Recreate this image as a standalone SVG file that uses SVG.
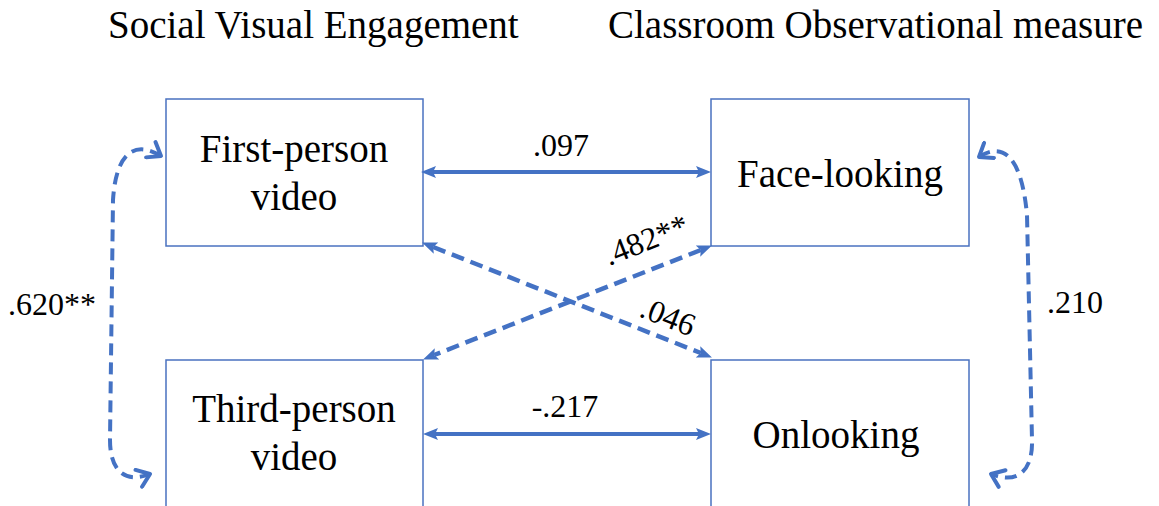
<svg xmlns="http://www.w3.org/2000/svg" width="1159" height="506" viewBox="0 0 1159 506">
<style>
  .box { fill: #ffffff; stroke: #4a72c0; stroke-width: 1.5; }
  .t { font-family: 'Liberation Serif', 'Times New Roman', Tinos, Times, 'DejaVu Serif', 'Noto Serif', serif; fill: #000; }
  .big { font-size: 39px; }
  .num { font-size: 32px; }
  .solid { fill: none; stroke: #4472C4; stroke-width: 4; }
  .dash { fill: none; stroke: #4472C4; stroke-width: 4.5; stroke-dasharray: 13 7; }
  .curve { fill: none; stroke: #4472C4; stroke-width: 4; stroke-dasharray: 12 7; }
</style>
<defs>
  <marker id="tri" markerUnits="userSpaceOnUse" markerWidth="15" markerHeight="12" viewBox="0 0 15 12" refX="3" refY="6" orient="auto-start-reverse">
    <path d="M0,0 L15,6 L0,12 L3,6 z" fill="#4472C4"/>
  </marker>
  <marker id="open" markerUnits="userSpaceOnUse" markerWidth="18" markerHeight="22" viewBox="0 0 18 22" refX="15" refY="11" orient="auto-start-reverse">
    <path d="M3,2 L15,11 L3,20" fill="none" stroke="#4472C4" stroke-width="4" stroke-linecap="round" stroke-linejoin="round"/>
  </marker>
</defs>

<g id="titles">
  <text class="t big" x="108" y="38">Social Visual Engagement</text>
  <text class="t big" x="608" y="38">Classroom Observational measure</text>
</g>

<g id="node-first-person">
  <rect class="box" x="166" y="99" width="257" height="147"/>
  <text class="t big" x="294" y="162" text-anchor="middle">First-person</text>
  <text class="t big" x="294" y="210" text-anchor="middle">video</text>
</g>
<g id="node-face-looking">
  <rect class="box" x="711" y="99" width="258" height="147"/>
  <text class="t big" x="840" y="187" text-anchor="middle">Face-looking</text>
</g>
<g id="node-third-person">
  <rect class="box" x="166" y="360" width="257" height="170"/>
  <text class="t big" x="294" y="422" text-anchor="middle">Third-person</text>
  <text class="t big" x="294" y="470" text-anchor="middle">video</text>
</g>
<g id="node-onlooking">
  <rect class="box" x="711" y="360" width="258" height="170"/>
  <text class="t big" x="836" y="448" text-anchor="middle">Onlooking</text>
</g>

<g id="connectors">
  <line class="solid" x1="433" y1="172" x2="699" y2="172" marker-start="url(#tri)" marker-end="url(#tri)"/>
  <line class="solid" x1="435" y1="434" x2="699" y2="434" marker-start="url(#tri)" marker-end="url(#tri)"/>
  <line class="dash" x1="433.2" y1="247" x2="700.8" y2="353" marker-start="url(#tri)" marker-end="url(#tri)"/>
  <line class="dash" x1="700.8" y1="250" x2="434.2" y2="355" marker-start="url(#tri)" marker-end="url(#tri)"/>
  <path class="curve" d="M161,156 C135,140 116,152 113,200 L110,440 C110,470 124,484 150,474" marker-start="url(#open)" marker-end="url(#open)"/>
  <path class="curve" d="M979,157 C1005,140 1022,160 1027,215 L1032,440 C1033,470 1018,485 991,474" marker-start="url(#open)" marker-end="url(#open)"/>
</g>

<g id="labels">
  <text class="t num" x="561" y="156" text-anchor="middle">.097</text>
  <text class="t num" x="565" y="417" text-anchor="middle">-.217</text>
  <text class="t num" x="8" y="315">.620**</text>
  <text class="t num" x="1047" y="313">.210</text>
  <text class="t num" x="609" y="266" transform="rotate(-21.6 609 266)">.482**</text>
  <text class="t num" x="638" y="316" transform="rotate(21.6 638 316)">.046</text>
</g>
</svg>
